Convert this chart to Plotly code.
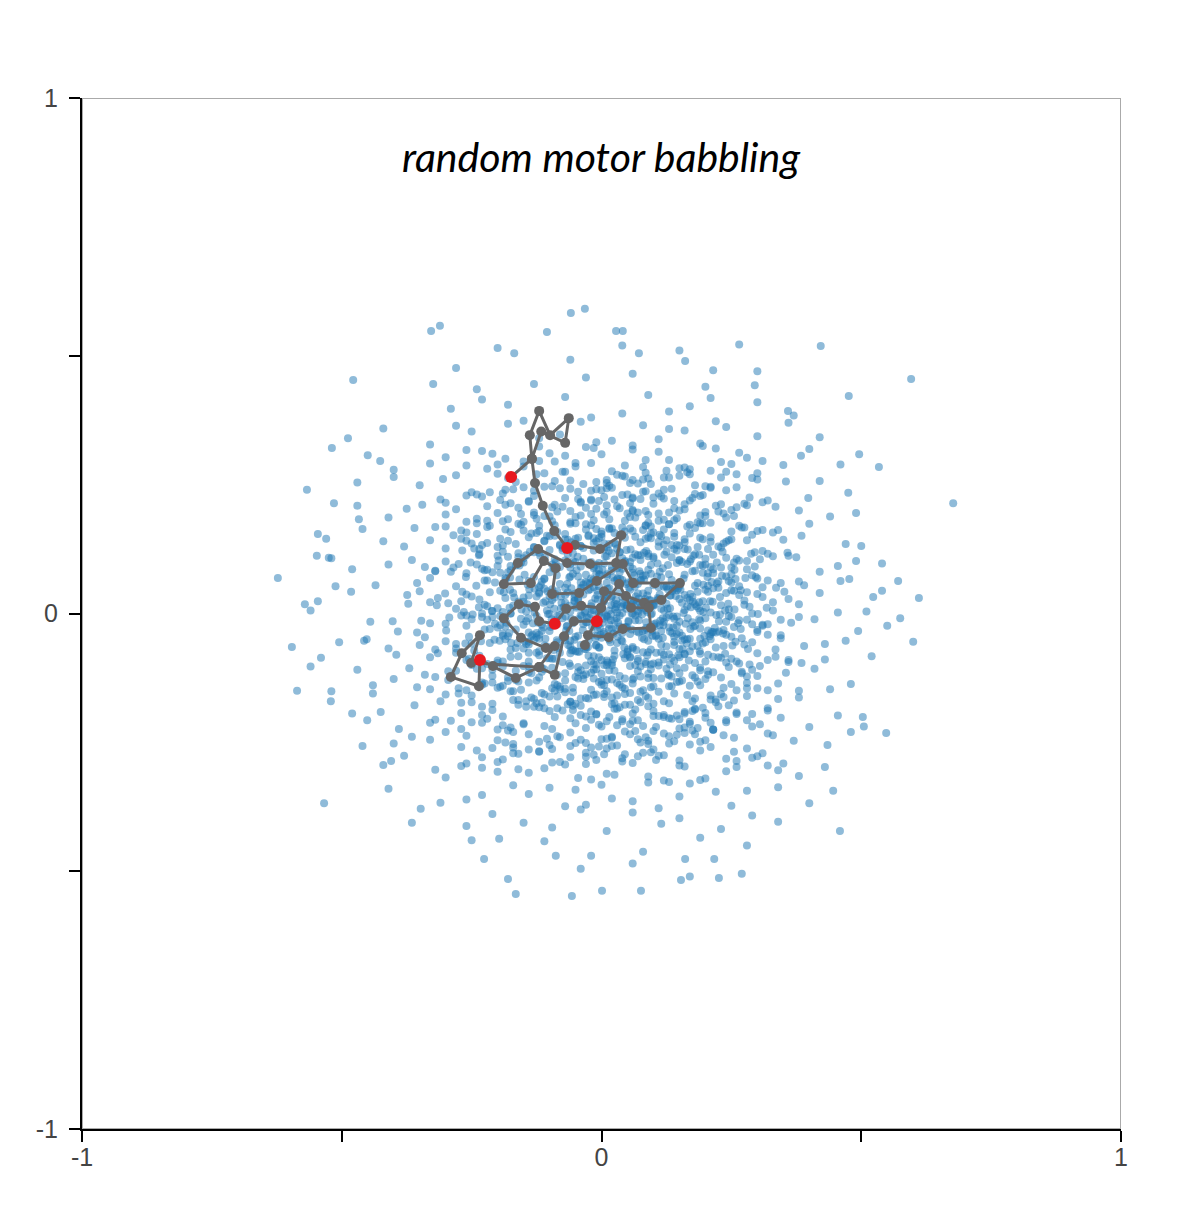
import plotly.graph_objects as go

# sparse outskirts of the babbling cloud (thousandths of axis units)
outer_pts = [
    -623, 69, -596, -65, -586, -150, -567, 240, -571, 18, -546, 24, -540, -86, -534, -368,
    -521, -170, -525, 108, -515, 214, -488, 340, -478, 453, -482, 42, -519, 321, -546, 154,
    -548, 112, -467, 183, -457, -53, -451, -207, -440, -139, -426, 296, -328, 548, -311, 558,
    -280, 476, -168, 505, -105, 546, -59, 583, -32, 591, 28, 548, 41, 548, 72, 505,
    161, 490, 215, 472, 265, 522, 295, 443, 359, 393, 422, 519, 476, 422, 596, 455,
    496, 309, 534, 284, 677, 214, 571, 63, 611, 30, 523, 32, 550, -24, 548, -232,
    503, -201, 459, -422, 446, -344, 398, 224, -165, -544, -57, -548, 1, -538, 76, -538,
    153, -517, 226, -513, 270, -505, 217, -476, 161, -476, -88, -470, -226, -476, -365, -406,
    -405, -286, -348, -379, -197, -437, 115, -408, -324, 445, 384, 306, 490, 102, 477, 67,
    494, -34,
]

# body of the cloud, by horizontal band: band centre (thousandths) -> [x, dy, x, dy, ...]
bands = {
    0: [12, -7, -143, 18, 88, 3, -35, -21, 201, 11, -260, -4, 57, 22, -91, 9, 150, -16, 5, 24,
        -188, -12, 330, 6, -48, 14, 119, -23, -5, -2, 244, 19, -122, -18, 71, 1, -317, 16, 29, -9,
        176, 23, -66, -24, 95, 13, -211, 5, 410, -11, -19, 20, 138, -6, -154, 8, 263, -19, 44, 17,
        -103, -1, 187, 10, -402, -15, 2, 4, -77, 21, 310, -22, 65, -13, -236, 12, 107, 25, -28, -17,
        221, -3, -170, 15, -58, -10, 160, 7, 35, -25, -129, 2, 380, 18, -293, -8, 81, 11, -11, -20,
        209, 24, -85, -5, 127, 9, -347, -14, 19, 16, -195, -23, 290, 0, -40, 13, 166, -9, -112, 21,
        52, -16, 238, 6, -248, -2, 101, -21, -3, 10, -160, 18, 345, -12, 73, 22, -69, -6, 196, 3,
        -132, -19, 26, 8, -220, 14, 145, -24, -31, 5, 275, 17, -96, -11, 455, 2, -183, -18, 60, 20,
        9, -4, -280, 9, 113, -14, -52, 24, 250, -7, 172, 12, -115, -22, 40, 1, -372, 19, 86, -17,
        -15, 7, 214, 23, -141, -9, 301, -1, -62, 15, -205, -20, 132, 10, 18, -13, 510, 4, -99, 18,
        94, -25, -265, 3, 155, 21, -24, -8, 365, -18, -177, 11, 48, 16, -81, -3, 226, -15, -330, 22,
        120, 6, -6, -22, 183, 14, -125, -5, 67, 19, -45, -11, 256, 8, -445, -16, 30, 2, -150, 23,
        140, -10, -73, 12, 320, -21, -230, 0, 99, 17, -560, 6, 575, -9, 78, -2, -20, 14, -108, 24,
        190, -14],
    50: [-22, 8, 133, -15, -176, 20, 64, 2, -95, -24, 245, 13, -8, -6, 107, 22, -301, -11, 36, 17,
         -139, -3, 185, 9, -52, -19, 290, 24, 15, -1, -220, 14, 84, -22, -117, 5, 158, 18, -35, -13,
         352, -8, -261, 21, 53, 0, -78, -17, 212, 11, -4, 25, -188, -9, 125, 3, 6, -20, -158, 16,
         268, -5, -66, 7, 95, -25, -330, 19, 171, -12, -13, 12, 40, -18, -241, 4, 232, 23, -104, -7,
         76, 15, -45, -21, 310, 1, -205, 10, 143, -16, 22, 20, -129, -2, 420, -10, -86, 24, 196, 6,
         -374, -14, 58, 13, 117, -23, -27, 9, -168, -19, 258, 17, 3, -8, -60, 22, 152, -4, -280, 3,
         88, -15, 380, 12, -110, 18, 28, -24, -195, -6, 222, 8, -16, 15, 70, -11, -148, 25, 165, -20,
         -435, 5, 101, 11, -38, -1, 277, 19, -250, -17, 47, 7, -89, -12, 204, 21, 136, -7, -7, -23,
         -225, 14, 336, 0, -120, -9, 11, 23, 180, 4, -70, -14, 82, 16, -315, -20, 250, 10, -176, -4,
         31, 18, -52, -25, 120, 2, 460, 13, -142, 6, 19, -19, 297, 21, -97, -10, -512, 3, 228, -18,
         -30, 11, 63, 24, -268, -8, 148, -1, -184, 17, 9, -13, 390, 5, -62, 20, 110, -22, -355, 9,
         540, -6, -15, 1, 75, 14],
    -50: [31, 5, -150, -18, 96, 21, -60, -3, 212, 14, -245, -22, 4, 10, 140, -11, -98, 24, 270, 2,
          -30, -15, 58, 19, -190, 7, 335, -20, -125, 12, 17, -6, 177, 25, -280, -9, 79, 16, -43, -24,
          118, 3, -215, 20, -11, -12, 240, 9, -86, -2, 156, -19, -355, 13, 42, 22, -162, -7, 300, 18,
          -4, -16, 104, 6, -67, 25, -232, -4, 189, -23, 23, 11, -120, 1, 390, -13, -299, 17, 67, -21,
          -20, 8, 226, 15, -140, -10, 130, 23, -52, -1, -410, -18, 12, 4, 171, 20, -105, -14, 258, -5,
          -178, 12, 90, -25, -36, 18, 345, 2, -262, -8, 49, 24, -82, -17, 198, 7, -10, -11, 115, 16,
          -196, -3, 282, -19, 28, 21, -133, 9, -505, -6, 160, 0, -58, -22, 72, 13, 430, -9, -225, 19,
          -26, -15, 208, 6, -112, 23, 38, -2, -320, -20, 145, 10, -71, 3, 252, -12, -3, 22, -174, -7,
          98, 17, -46, -24, 190, 1, -392, 15, 60, -18, 320, 9, -148, -4, 14, 20, -92, -21, 234, 11,
          -255, 5, 125, -14, -18, 24, 164, -8, -206, -1, 83, 18, -120, -23, 470, -3, 5, 14, -64, -11,
          218, 22, -340, 4, 44, -16, 105, 8, -185, 25, 290, -6, -33, -19, 136, 12, -452, 0, 600, -5,
          -8, 7, 51, -20, -100, 16],
    100: [-40, -9, 121, 14, -198, 3, 60, -21, 233, 20, -109, 8, 2, -15, 166, 24, -275, -4, 90, 11,
          -55, -23, 305, 5, -160, 17, 30, -12, -15, 22, 195, -7, -236, 13, 73, -18, -88, 0, 140, 25,
          -340, -10, 260, 6, -4, -24, -130, 19, 46, 2, 215, -14, -65, 15, 108, -3, -210, -20, 375, 9,
          14, 21, -175, -8, 177, 12, -30, -25, 82, 18, -300, 1, 250, -11, -120, 23, 128, -6, -46, 10,
          19, -17, 288, 16, -252, -1, 56, 24, -92, -13, 150, 4, -190, 20, 420, -19, 100, 7, -15, -9,
          -145, 13, 205, -22, -70, 3, 35, 19, -410, -5, 330, 11, -225, -16, 160, 25, -5, -2, 65, 15,
          -100, -20, 240, 8, -268, 22, 118, -12, -35, 6, 10, -24, 188, 14, -158, -7, 86, 21, -480, -14,
          280, 2, -55, 17, -195, -21, 135, 9, 27, -4, 358, 18, -118, 12, -320, -18, 222, -1, 48, 23,
          -80, -10, 172, 5, -235, 15, 95, -23, -20, 0, 455, -8, -138, 20, 256, -15, 7, 11, -365, 4,
          112, -19, -62, 24, 200, -5, -180, 10, 40, -13, 320, 16, -10, -22, -520, 7, 540, -3, 75, 13,
          -285, -11, 145, 22, -48, -16],
    -100: [22, 11, -135, -16, 180, 4, -60, 23, 290, -9, -220, 2, 75, -22, -15, 17, 140, 8, -295, -12,
           50, 20, -95, -5, 230, 14, -180, -24, 5, 0, 115, 25, -340, -19, 200, 7, -40, -10, 88, 19,
           -150, -2, 355, -15, -255, 12, 35, -21, -75, 6, 160, 22, -115, -13, 265, 3, -25, 18, 62, -25,
           -200, 9, 410, -7, -5, 15, 128, -18, -280, 24, 95, 1, -165, -11, 215, 16, -50, -23, 12, 5,
           -395, 20, 245, -4, -105, 13, 175, -20, -230, -6, 42, 21, 320, 10, -70, -16, 105, 24, -30, -1,
           -470, -9, 150, 15, -140, 7, 280, -22, 25, 18, -190, -3, 70, 12, -85, -19, 385, 4, -315, 23,
           205, -12, -10, -8, 120, 20, -250, 0, 0, -17, 168, 9, -120, -24, 55, 14, 305, -2, -175, 16,
           -45, -14, 238, 22, -370, -6, 85, 2, 430, 11, -210, -21, 148, 19, -62, 3, 15, -10, -140, 24,
           270, -16, -20, 8, 190, -5, -330, 15, 100, -25, -95, 12, 360, 6, -560, -3, 520, 17, -35, -20,
           132, 1, -260, 10],
    150: [-70, -6, 80, 12, -215, 20, 150, -18, 0, 4, -130, -22, 250, 9, -30, 23, 110, -11, -285, 2,
          40, 17, -165, -15, 190, -3, -90, 21, 330, 7, -245, -24, 15, 14, 125, -8, -50, 25, 225, -20,
          -120, 10, 65, -1, -360, 16, -15, -13, 170, 22, -195, -5, 95, 19, -75, -23, 290, 3, 28, -16,
          -150, 11, 400, 24, -260, -9, 140, 6, -40, -19, 55, 15, -105, 1, 205, -25, -320, 18, 75, -12,
          -175, 8, 265, 20, -5, -4, -230, -17, 120, 13, -60, 24, 350, -7, 10, -22, -135, 5, 180, 16,
          -420, -10, 90, -2, -20, 21, 235, -14, -100, 0, 310, 12, -200, -21, 45, 9, 160, -6, -300, 19,
          -80, -18, 130, 23, -25, 2, 210, -11, -460, 14, 470, -15, 100, 7, -155, 22, 30, -24, -240, 4,
          275, 17, -110, -9, 60, 10, -380, -20, 195, 25, -45, -3, 145, -17, -185, 13, 385, 1, 5, -14,
          -270, 11, 85, 20, 245, -8, -125, 6, 500, -19, -530, -5, 20, 15, -58, -12, 112, 3],
    -150: [55, -4, -90, 13, 175, -20, -200, 6, 20, 22, -40, -15, 130, 9, -270, -23, 260, 1, -140, 16,
           85, -10, -15, 24, 210, -17, -330, 3, 35, 12, -110, -7, 155, 20, -60, -21, 300, 5, -225, 14,
           100, -25, -175, -1, 0, 19, 235, -12, -80, 8, 70, -18, -400, 23, 380, 0, -250, -9, 145, 17,
           -30, -14, 190, 11, -125, -24, 45, 4, -295, 21, 5, -6, 120, -20, -190, 10, 280, 15, -55, -3,
           220, -22, -355, 7, 90, 25, -100, -11, 340, -16, -20, 2, -160, 18, 165, -8, 25, -24, -230, 12,
           110, -2, -70, 20, 255, -19, -440, -5, 60, 14, -135, -13, 200, 23, 440, 3, -310, -20, 135, 9,
           -10, -7, -210, 16, 75, -22, 320, 1, -85, 11, 180, -15, -45, 24, 30, -9, -275, 5, 150, 18,
           -170, -18, 480, 13, -520, -1, 230, -6, 10, 21, -115, -23, 95, 7],
    200: [-30, 5, 120, -18, -175, 14, 60, 23, 235, -6, -95, -21, 10, 10, -280, 2, 170, 19, -50, -13,
          90, -24, -220, 8, 310, 16, -130, -9, 25, 21, 200, -3, -70, 24, 145, -15, -345, 11, 45, -20,
          260, 6, -5, 18, -155, -7, 100, 13, -240, -25, 380, 0, 75, 22, -110, -11, 15, -17, 220, 9,
          -195, 20, 130, -4, -40, 15, -410, -14, 285, 25, -85, -2, 160, 12, -260, -22, 35, 4, 190, -10,
          -140, 17, -15, -19, 335, 7, -310, 21, 110, -6, 55, 14, -60, -23, 250, 1, -185, 11, 440, -12,
          -20, 19, 85, -1, -125, -16, 175, 24, -375, 3, 5, -8, 275, 13, -220, -20, 140, 18, -95, 6,
          490, -5, -470, 9, 65, -14, -45, 22, 210, -24],
    -200: [40, -5, -110, 16, 185, -22, -40, 3, 90, 20, -230, -12, 260, 8, 0, -19, -160, 23, 135, -4,
           -75, 12, 305, -15, 20, 24, -290, -8, 110, 1, -130, 19, 215, -25, -20, 10, -190, -17, 65, 14,
           345, -2, -55, 21, -250, -11, 160, 6, -95, -24, 30, 15, 240, -7, -360, 22, 80, -18, -10, 4,
           195, 17, -150, -13, 120, -1, -425, 9, 400, -20, -65, 24, 10, -9, -210, 13, 150, -23, 290, 5,
           -120, 18, 55, -15, -30, 0, 225, 20, -320, -6, 100, 11, -175, -21, 455, 2, -85, 16, 170, -10,
           -270, 7, 45, 23, -5, -16, 130, -3, -145, 19, -390, -24, 320, 12, 70, -7, -50, 25, 210, -12,
           -230, 3, 505, -19, -480, 6, 15, -1, 180, 15],
    250: [-60, 8, 110, -17, -200, 21, 20, -6, 230, 14, -130, -22, 70, 2, -280, 18, -20, -12, 165, 24,
          -95, -3, 300, 10, -240, -19, 45, 16, 135, -8, -165, 5, 5, -24, 260, 20, -45, -14, 90, 12,
          -350, -1, 195, -20, -110, 22, 355, 6, -10, -9, 150, 17, -215, -15, 55, 3, -75, 25, 240, -11,
          -305, 11, 115, -23, 30, 19, -150, -5, 420, 7, -400, 15, 180, -18, -35, 1, 85, 23, -185, -10,
          290, 13, -260, -21, 10, 9, 210, -4, -125, 20, 475, -16, -470, 4, 60, -25, 130, 14, -80, -7],
    -250: [-20, -10, 145, 15, -170, -3, 65, 22, 255, -18, -105, 7, 5, -23, -260, 13, 190, 1, -60, 19,
           100, -14, -330, 5, 310, -21, -140, 16, 30, -6, 215, 24, -210, -11, 85, 10, -30, -20, 160, 18,
           -400, -2, 120, -25, -85, 12, 370, 3, -240, -16, 45, 21, -5, -8, 235, 14, -160, -22, 70, 6,
           -300, 20, 280, -12, -50, -1, 175, 23, -120, -17, 20, 9, -200, 25, 435, -5, 95, -19, -365, 11,
           140, 2, -15, -24, 320, 17, -270, -9, 55, 16, -95, -13, 200, 4, -460, -7, 480, 20, -185, 0],
    300: [-90, -5, 60, 18, -210, 10, 170, -20, -30, 23, 280, 2, -150, -15, 110, 14, -330, -9, 20, -24,
          220, 20, -70, 6, 350, -12, -260, 17, 85, -2, -120, 24, 150, -18, 0, 9, -400, -21, 265, 12,
          -185, 0, 45, -13, 400, 19, -50, -8, 195, 25, -300, 3, 125, -23, -230, 15, 310, -4, -15, 21,
          80, -16, -450, 7, 460, -11, -100, 11, 240, -25],
    -300: [-70, 7, 90, -16, -230, 21, 160, 3, -20, -22, 260, 14, -140, -9, 40, 19, -320, -3, 200, -20,
           -80, 12, 320, 5, 120, -24, -190, 17, 10, -11, -380, 24, 240, -6, -110, 0, 70, 23, 380, -15,
           -260, 9, -45, -19, 150, 15, -160, -2, 290, 20, 25, -13, -420, 6, 190, -23, -95, 11, 430, 2,
           -200, -7, 105, 16, -30, 22, -300, -18, 340, -4],
    350: [-120, -10, 80, 15, -250, 3, 190, -20, -40, 22, 300, -6, -180, 18, 20, -15, 130, 8, -330, -22,
          240, 12, -80, -3, 360, 20, -10, -18, 160, 5, -280, 14, 60, -24, -150, 24, 420, -8, -420, 9,
          110, -12, 220, 23],
    -350: [-100, 12, 60, -14, -230, -2, 170, 20, -30, -21, 280, 6, -170, 17, 20, -9, 130, 23, -310, -17,
           220, 4, -70, -24, 340, 13, 0, 18, 150, -5, -260, -11, 90, 22, -140, 0, 400, -18, -410, 10,
           250, -23, -50, 8],
    400: [-180, 5, 40, -12, 210, 18, -70, 20, 130, -8, -290, -3, 300, 10, -20, -20, 90, 24, -230, 15,
          370, -16, 170, 2],
    -400: [-150, -6, 60, 14, 230, -18, -40, 20, 150, 3, -260, -12, 290, 8, 10, -22, 110, 22, -210, 11,
           340, -4, -95, -15],
    450: [-130, -5, 60, 15, 200, -10, -30, 8, 300, 20, -240, -15],
    -450: [-110, 8, 80, -12, 190, 15, -20, -20, 280, 0, -250, 10],
    500: [-60, -8, 150, 10, -200, 15, 40, 20],
    -500: [-40, 5, 170, -10, -180, -15, 60, 15],
}

# the dense core, same layout, bands shifted by half a step
core_bands = {
    25: [-12, 4, 85, -18, 160, 11, -95, 22, 30, -7, 210, -23, -170, 15, 118, 2, -48, -14, 255, 19,
         4, -2, 142, 24, -130, -11, 66, 8, -210, -20, 185, 17, -70, -4, 97, -25, 300, 13, -25, 20,
         48, -16, -150, 6, 230, -9, 12, 23, -105, -19, 170, 1, -260, 12, 75, -13, -40, 25, 125, -6,
         280, 16, -190, -22, 20, 9, 195, -1, -85, 18, -5, -24, 108, 5, -120, 14, 245, -17, 55, 21,
         -225, -8, 150, 3, -60, -21, 90, 19, 330, -3, -140, 10, 38, -12, 215, 24, -18, -18, 175, 7,
         -295, -5, 128, 22, -78, -15, 62, 0, 265, 11, -175, -25, 8, 17, 100, -10, -52, 13, 190, -20,
         -235, 2, 145, 20, 25, -6, -110, 23, 318, -14, 72, 4, -32, -23, 240, 15, -160, -2, 112, 12,
         -2, -17, 200, 21, -90, 6, 50, -9, -350, 18, 158, -24, 92, 1, -65, 16, 285, -12, 15, -19,
         -125, 8, 225, 25, 40, -4, -200, -15, 132, 10, -22, 22, 180, -7, 80, 14, -145, -21, 360, 3,
         -8, 11, 115, -16, 250, 20, -270, -1, 58, -25, -100, 9, 205, 17, 165, -11, -45, 2, 28, -13,
         138, 23, -185, 5, 70, -20, 310, 7, -58, 24, 102, -8, -215, 16, 188, -3, 33, 19, -135, -14,
         275, 0, 5, 12],
    -25: [20, -5, -75, 16, 140, -20, -150, 3, 65, 21, 220, -12, -30, 8, 110, -24, -210, 18, 180, 1,
          -2, -16, 95, 23, -115, -9, 265, 12, 45, -1, -175, 25, 155, -18, -55, 6, 10, 19, 235, -7,
          -250, 14, 78, -22, -95, 2, 125, 17, 300, -11, -20, 24, 190, -4, -135, -19, 52, 11, -300, 5,
          165, -25, 5, 15, -68, -8, 245, 20, -190, -14, 102, 0, -40, 22, 210, -15, 32, 7, -125, -21,
          280, 13, 86, -3, -230, 18, 150, -12, -12, -23, 120, 9, -85, 4, 345, -17, 60, 25, -165, -6,
          200, 16, -50, -20, 15, 3, 132, -10, -270, 21, 255, -1, 72, 12, -108, -24, 175, 8, -28, 17,
          40, -13, -200, -2, 228, 23, 98, -18, -145, 10, 310, 1, -62, -9, 145, 19, 0, -22, -330, 6,
          188, 14, 55, -15, -100, 24, 268, -5, 25, 11, -180, -19, 112, 2, -38, 20, 215, -11, 82, -25,
          -220, 13, 162, 5, -8, -7, 380, 18, -120, -16, 130, 22, 48, -3, -75, -21, 240, 9, -155, 15,
          90, -13, 18, 24, 205, -8, -260, 1, 118, 16, -45, -18, 290, 4, 68, -10, -195, 20, 170, -24,
          2, 7, -90, 12, 138, -2, 35, 21, -140, -12, 250, -20, 105, 6],
    75: [40, -10, -60, 14, 150, -21, -180, 5, 95, 19, 240, -3, -25, 23, 10, -16, 180, 8, -120, -24,
         60, 12, 300, -7, -240, 20, 130, 1, -80, -18, 210, 15, 25, -12, -150, 24, 115, -5, -5, 9,
         265, -22, -200, 17, 75, 2, -40, -15, 165, 21, -110, -8, 45, 25, 225, -13, -290, 6, 140, -20,
         -15, 13, 85, -1, -165, 18, 320, -11, 5, 22, -70, -25, 195, 4, 105, -17, -220, 10, 55, 16,
         -130, -4, 255, 24, -35, -19, 175, 7, 30, -9, -95, 20, 125, -23, -260, 3, 230, 14, 65, -14,
         -10, 19, -185, -6, 280, 11, 100, -20, -50, 25, 160, 0, -140, -12, 20, 15, 205, -21, -320, 8,
         80, -2, -90, 17, 345, -16, 145, 23, -20, -7, -230, 12, 110, -24, 35, 5, 190, 19, -115, -13,
         250, 1, -60, 21, 70, -18, -175, 9, 135, -10, 295, 16, -5, -22, 215, 3, -155, 24, 50, -15,
         90, 10, -45, -3],
    -75: [-30, 6, 70, -17, -140, 20, 160, -4, 15, 24, -90, -13, 220, 9, -200, -21, 115, 15, -50, 2,
          260, -18, 40, 21, -160, -8, 185, 12, -10, -24, 95, 5, -250, 17, 135, -11, -70, 23, 300, -2,
          0, -15, 200, 19, -120, -6, 60, 10, -185, 25, 240, -20, 25, 3, -100, -12, 155, 22, -280, 7,
          85, -19, -40, 14, 205, -5, -130, 24, 120, -14, 50, 1, -215, 18, 335, -9, -15, -23, 175, 11,
          -80, -1, 140, 20, 10, -16, -165, 8, 275, 15, 100, -22, -55, 4, 225, -10, -300, 21, 65, -25,
          -110, 13, 190, -3, 30, 18, -190, -18, 150, 6, -25, 23, 250, -13, 80, 0, -145, 16, 110, -20,
          -5, 9, -235, -7, 210, 25, 45, -12, -85, 19, 170, 2, 285, -24, -60, 11, 130, -4, -350, 14,
          20, -21, 195, 17, -125, -1, 90, 22, 360, -15, -175, 5, 55, -9, 235, 12],
    125: [20, -8, -110, 15, 150, -22, -40, 6, 85, 20, -200, -13, 230, 3, 0, 24, -150, -18, 120, 9,
          -75, -3, 280, 17, 55, -25, -250, 11, 180, -10, -15, 21, 100, -15, -130, 4, 210, 23, 35, -6,
          -90, -20, 160, 13, -300, 1, 70, -12, 250, 19, -55, -23, 135, 8, -180, 16, 5, -1, 200, -19,
          -25, 25, 90, -9, -220, 12, 310, -4, 45, 22, -160, -16, 110, 5, -65, 18, 170, -24, 15, 10,
          -120, -7, 240, 14, -270, 20, 75, -21, -35, 2, 140, 24, 360, -13, -190, 7, 60, -17, 195, 19,
          -100, -2, 25, 12, 265, -22, -140, 23, 125, -5, -10, 15, 215, -11, -235, 0, 95, 21, 40, -18,
          -80, 9, 155, -25, -330, 17, 185, 4, 10, -14, -50, 20, 295, -6],
    -125: [-20, 10, 100, -16, -140, 22, 60, -3, 190, 15, -70, -21, 130, 5, -230, -9, 20, 24, 250, -12,
           -110, 17, 80, -24, -30, 7, 160, 20, -180, -6, 40, -18, 215, 11, -60, 23, 115, -1, -280, 14,
           5, -14, 145, 19, -95, -20, 300, 4, 70, 13, -155, -23, 180, 1, -45, 21, 30, -10, -210, 16,
           235, -19, 90, 8, -125, -5, 10, 25, 170, -15, -320, 2, 125, 18, -80, -22, 270, 12, -5, -8,
           55, 23, -195, -17, 205, 6, -35, -2, 95, 17, -260, -24, 150, 9, -115, 20, 340, -11, 25, 14,
           -165, -4, 110, 24, -55, -19, 230, 1, 0, -13, -240, 18, 185, -7, 75, 22, -90, -25, 135, 3,
           -15, 16, 280, -20, -140, 11, 45, -1],
    175: [-30, -12, 90, 16, -150, 3, 170, -20, 10, 22, -220, -7, 240, 11, -90, -24, 50, 19, 130, -2,
          -60, 24, 300, -15, -180, 8, 25, -19, 200, 14, -120, -5, 70, 21, -10, -11, 150, 25, -260, -18,
          110, 5, -40, 15, 270, -8, -200, 20, 35, -23, 185, 2, -100, 13, 0, -16, 85, -4, -300, 17,
          225, 23, -70, -21, 140, 6, -160, -1, 55, 12, 340, -13, -20, 18, 115, -25, -240, 9, 190, 0,
          -130, 21, 15, -9, 255, 14, -85, -17, 60, 24, 165, -6, -190, 4, 95, -20],
    -175: [20, 12, -100, -14, 140, 20, -40, -4, 220, 8, -170, 24, 60, -19, -250, 3, 180, -11, -15, 17,
           100, -24, -130, 9, 280, 15, 35, -7, -70, 22, 160, -16, -210, 0, 5, 13, 120, -22, -300, 18,
           245, -3, -55, -12, 75, 23, -145, 5, 200, -18, -25, 10, 320, -9, 45, 19, -190, -25, 130, 1,
           -85, 14, 260, -20, 10, 24, -230, -6, 90, 11, 175, -14, -115, 21, 55, -2, -10, -20, 210, 16,
           -160, 7, 145, -23, -60, 4, 380, 12, 25, -10, -275, 20],
    225: [-40, -8, 120, 15, -160, -20, 50, 6, 200, 22, -90, -14, 10, 18, -230, 2, 160, -23, 80, 11,
          -20, -4, 260, 20, -130, 13, 30, -17, 180, 24, -300, -10, 100, 0, -60, 17, 230, -13, -190, 8,
          140, -21, 0, 14, -110, 21, 320, -6, 60, -24, -250, 10, 190, 3, -75, -18, 15, 23, 120, -2,
          -170, 16, 280, -15, 40, 5, -10, -22, 210, 19, -140, -7, 85, 12],
    -225: [30, 8, -80, -15, 150, 20, -170, -5, 90, -22, 240, 14, -30, 3, 10, -18, -220, 21, 180, -9,
           60, 17, -120, -24, 290, 6, -50, 12, 130, -13, -270, 1, 200, 23, 0, -19, -150, 10, 100, -3,
           -90, 24, 330, -11, 40, 16, -200, -21, 160, 4, -20, 19, 255, -16, -110, 7, 75, -25, -330, 13,
           215, 0, 120, -8, -60, 22, 20, -14, 170, 11, -180, -2, 280, 18, -40, -20, 105, 5],
    275: [-50, 10, 80, -15, -150, 20, 170, -5, 10, -22, -220, 6, 250, 15, -90, -18, 130, 23, 40, -8,
          -180, -12, 210, 2, -20, 17, 95, -24, -260, 12, 300, -3, -120, 21, 60, -16, 160, 8, -10, -20,
          230, 19, -70, 0, 120, -11, -200, 14],
    -275: [40, -12, -60, 18, 150, -20, -170, 4, 90, 22, 240, -7, -30, -17, 10, 13, -230, -24, 190, 9,
           -100, 20, 300, -2, 60, -15, -140, 11, 130, 23, -10, -9, 210, 16, -270, -21, 80, 5, -60, -4,
           170, 21, -200, -13, 20, 18, 260, -23, -120, 7, 110, -1, -30, 24, 350, -16, 45, 2, -170, 15],
}

# explored trajectory (gray) and reached goals (red)
path_x = [-0.174, -0.134, -0.138, -0.120, -0.099, -0.063, -0.070, -0.116, -0.134, -0.128, -0.113, -0.091,
          -0.066, -0.051, -0.003, 0.038, 0.028, -0.022, -0.066, -0.122, -0.161, -0.188, -0.136, -0.111,
          -0.088, -0.095, -0.043, -0.009, 0.041, 0.061, 0.103, 0.151, 0.115, 0.082, 0.047, 0.005,
          -0.001, -0.039, -0.068, -0.090, -0.120, -0.128, -0.159, -0.188, -0.155, -0.107, -0.090, -0.120,
          -0.165, -0.209, -0.234, -0.236, -0.290, -0.269, -0.234, -0.251, -0.120, -0.090, -0.072, -0.053,
          -0.009, -0.026, 0.014, 0.041, 0.095, 0.091, 0.057, 0.034, -0.001, -0.032]
path_y = [0.265, 0.300, 0.346, 0.393, 0.346, 0.379, 0.331, 0.353, 0.300, 0.253, 0.209, 0.160,
          0.127, 0.133, 0.125, 0.152, 0.098, 0.096, 0.098, 0.125, 0.098, 0.057, 0.059, 0.102,
          0.088, 0.038, 0.040, 0.063, 0.096, 0.059, 0.059, 0.059, 0.026, 0.021, 0.034, 0.043,
          0.011, 0.015, 0.009, -0.020, -0.015, 0.013, 0.018, -0.009, -0.047, -0.067, -0.063, -0.104,
          -0.125, -0.102, -0.090, -0.141, -0.123, -0.077, -0.042, -0.096, -0.104, -0.119, -0.044, -0.015,
          -0.015, -0.042, -0.046, -0.030, -0.028, 0.011, 0.011, 0.057, 0.011, -0.061]
goal_x = [-0.174, -0.066, -0.090, -0.234, -0.009]
goal_y = [0.265, 0.127, -0.020, -0.090, -0.015]

cloud_x = [v / 1000 for v in outer_pts[0::2]]
cloud_y = [v / 1000 for v in outer_pts[1::2]]
for group in (bands, core_bands):
    for centre, vals in group.items():
        cloud_x += [v / 1000 for v in vals[0::2]]
        cloud_y += [(centre + d) / 1000 for d in vals[1::2]]

fig = go.Figure()
fig.add_trace(go.Scatter(x=cloud_x, y=cloud_y, mode="markers",
                         marker=dict(color="#1f77b4", size=8, opacity=0.5, line=dict(width=0)),
                         hoverinfo="skip"))
fig.add_trace(go.Scatter(x=path_x, y=path_y, mode="lines+markers",
                         line=dict(color="#666666", width=3),
                         marker=dict(color="#666666", size=10)))
fig.add_trace(go.Scatter(x=goal_x, y=goal_y, mode="markers",
                         marker=dict(color="#e8191f", size=12)))

# gray frame on top/right, black axis lines drawn over it
fig.add_shape(type="rect", xref="x", yref="y", x0=-1, x1=1, y0=-1, y1=1,
              line=dict(color="#aaaaaa", width=2), layer="below")

fig.add_annotation(text="<i>random motor babbling</i>", xref="paper", yref="paper",
                   x=0.5, y=0.943, showarrow=False, xanchor="center", yanchor="middle",
                   font=dict(family="Lato", size=41, color="black"))

axis_style = dict(range=[-1, 1], showgrid=False, zeroline=False, showline=True,
                  linecolor="black", linewidth=2, ticks="outside", ticklen=11, tickwidth=2,
                  tickcolor="black", tickvals=[-1, -0.5, 0, 0.5, 1],
                  ticktext=["-1", "", "0", "", "1"],
                  tickfont=dict(family="Liberation Sans, Arial", size=25, color="#444444"))
fig.update_xaxes(**axis_style, ticklabelstandoff=-6)
fig.update_yaxes(**axis_style, ticklabelstandoff=6)

fig.update_layout(width=1199, height=1208, showlegend=False,
                  margin=dict(l=74, r=86, t=90, b=87),
                  plot_bgcolor="white", paper_bgcolor="white")

fig.write_html("out.html")
